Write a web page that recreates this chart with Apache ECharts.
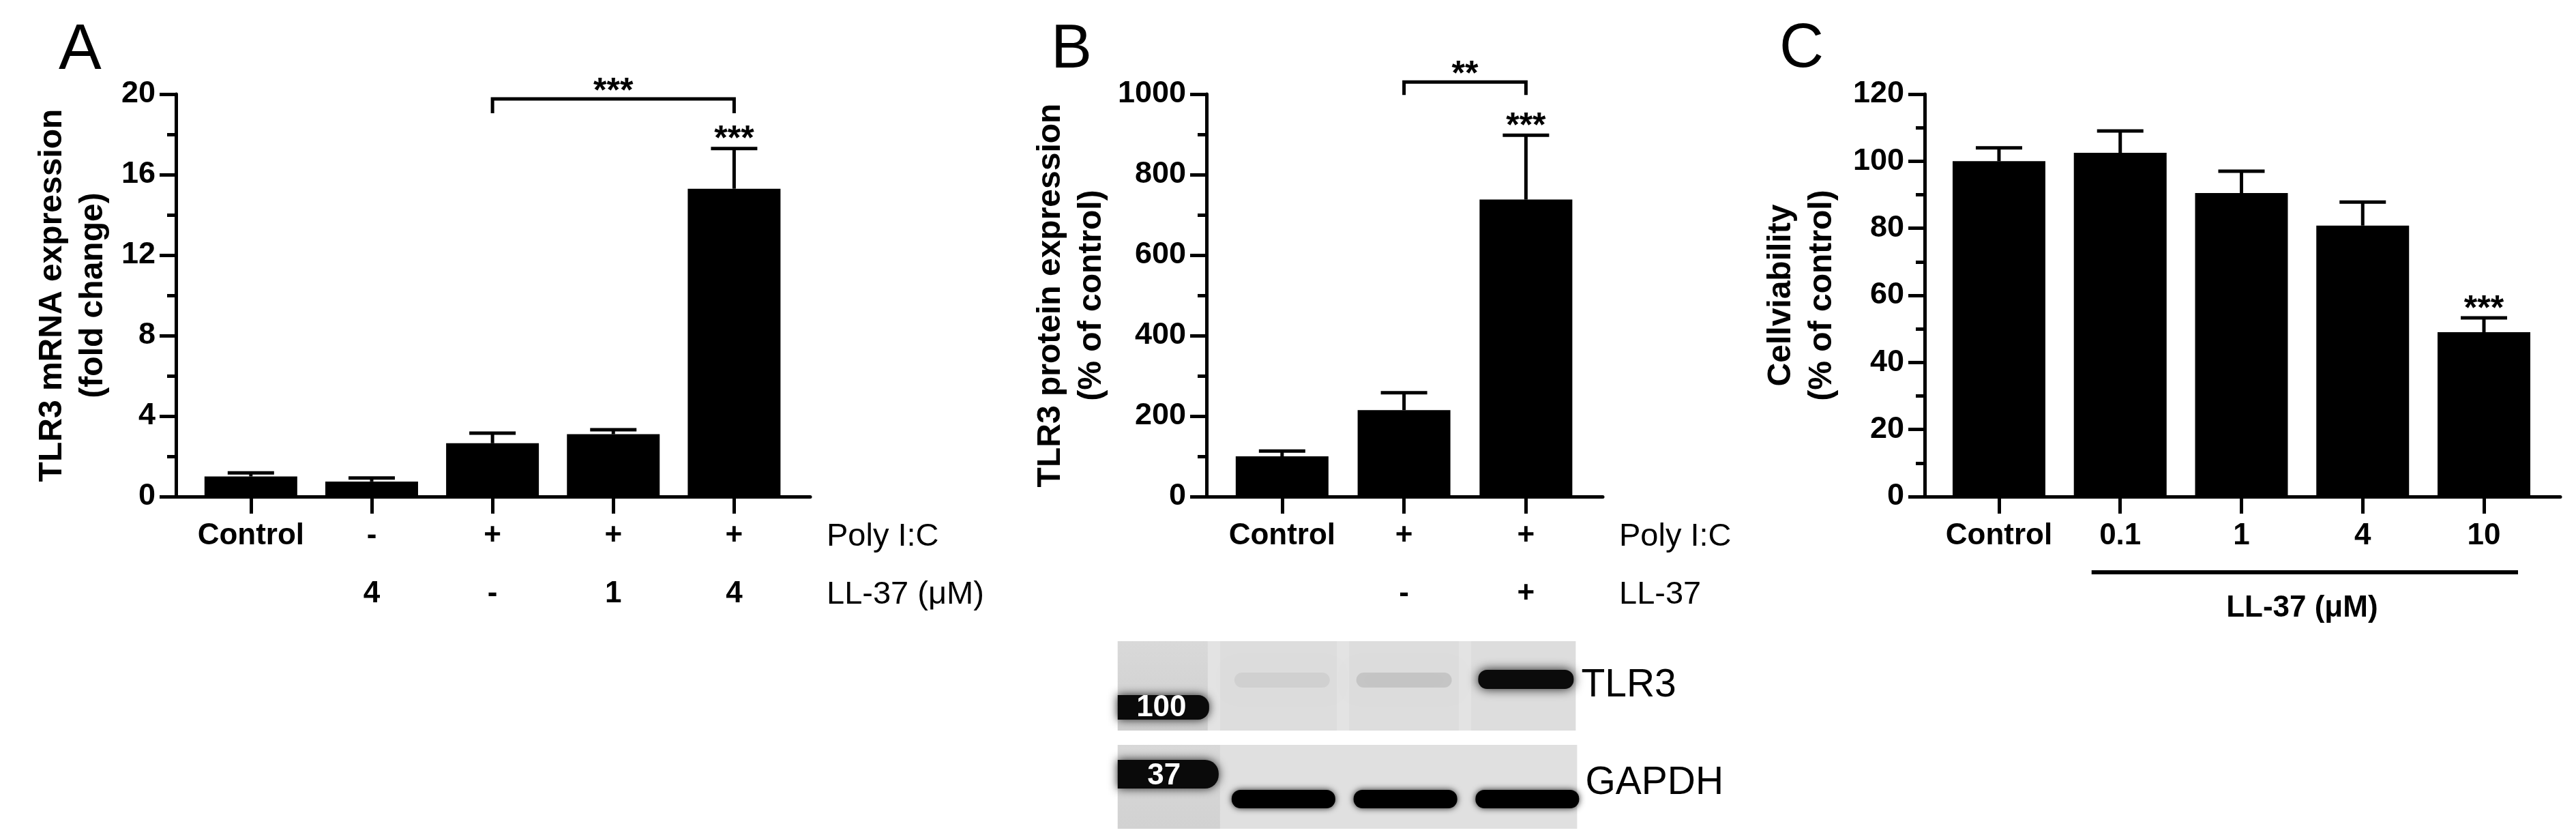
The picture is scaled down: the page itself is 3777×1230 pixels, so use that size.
<!DOCTYPE html>
<html><head><meta charset="utf-8">
<script src="https://cdn.jsdelivr.net/npm/echarts@6/dist/echarts.min.js"></script>
<style>html,body{margin:0;padding:0;background:#fff}#c{width:3777px;height:1230px}</style>
</head><body><div id="c"></div>
<script>
// ---------- DATA ----------
// Panel A: TLR3 mRNA expression (fold change)
const aRow1 = ['Control', '-', '+', '+', '+'];
const aRow2 = ['', '4', '-', '1', '4'];
const aValues = [1.0, 0.75, 2.65, 3.1, 15.3];
const aErrors = [0.18, 0.17, 0.5, 0.22, 2.0];
const aYTicks = {max: 20, interval: 4};
const aBarStars = [{i: 4, text: '***'}];
const aBrackets = [{from: 2, to: 4, top: 19.76, drop: 19.05, text: '***'}];

// Panel B: TLR3 protein expression (% of control)
const bRow1 = ['Control', '+', '+'];
const bRow2 = ['', '-', '+'];
const bValues = [100, 215, 738];
const bErrors = [13, 43, 160];
const bYTicks = {max: 1000, interval: 200};
const bBarStars = [{i: 2, text: '***'}];
const bBrackets = [{from: 1, to: 2, top: 1030, drop: 998, text: '**'}];
const tlr3Band = [0.05, 0.1, 1.0];   // relative band darkness per lane
const gapdhBand = [1.0, 1.0, 1.0];

// Panel C: Cell viability (% of control)
const cRow1 = ['Control', '0.1', '1', '4', '10'];
const cValues = [100, 102.5, 90.5, 80.8, 49];
const cErrors = [4, 6.5, 6.5, 7, 4.3];
const cYTicks = {max: 120, interval: 20};
const cBarStars = [{i: 4, text: '***'}];
const cGroup = [{from: 1, to: 4, text: 'LL-37 (μM)'}];

// ---------- STYLE ----------
const FONT = "'Liberation Sans', Arial, Helvetica, sans-serif";
const BLACK = '#000';

const chart = echarts.init(document.getElementById('c'), null, {renderer: 'canvas'});

function grid(left, width) {
  return {left: left, width: width, top: 138, height: 590, containLabel: false, outerBoundsMode: 'none'};
}
function yAxis(gridIndex, t, name, nameGap) {
  return {
    type: 'value', gridIndex: gridIndex, min: 0, max: t.max, interval: t.interval,
    name: name, nameLocation: 'middle', nameRotate: 90, nameGap: nameGap, nameMoveOverlap: false,
    nameTextStyle: {fontFamily: FONT, fontWeight: 'bold', fontSize: 48, lineHeight: 60, color: BLACK},
    axisLine: {show: true, onZero: false, lineStyle: {color: BLACK, width: 5}},
    axisTick: {show: true, length: 24, lineStyle: {color: BLACK, width: 5}},
    minorTick: {show: true, splitNumber: 2, length: 13, lineStyle: {color: BLACK, width: 5}},
    axisLabel: {formatter: v => String(v), fontFamily: FONT, fontWeight: 'bold', fontSize: 45, color: BLACK, margin: 30},
    splitLine: {show: false}, minorSplitLine: {show: false}
  };
}
function idxOf(labels) { const r = []; labels.forEach((l, i) => { if (l !== '') r.push(i); }); return r; }
function xAxisMain(gridIndex, min, max, labels, name) {
  const cv = labels.map((l, i) => i);
  return {
    type: 'value', gridIndex: gridIndex, min: min, max: max, position: 'bottom',
    axisLine: {show: true, onZero: false, lineStyle: {color: BLACK, width: 5}},
    axisTick: {show: true, customValues: cv, length: 25, lineStyle: {color: BLACK, width: 5}},
    axisLabel: {customValues: cv, formatter: v => labels[Math.round(v)], fontFamily: FONT, fontWeight: 'bold',
      fontSize: 44, color: BLACK, margin: 36},
    splitLine: {show: false},
    name: name || '', nameLocation: 'end', nameGap: 24, nameMoveOverlap: false,
    nameTextStyle: {fontFamily: FONT, fontSize: 47, color: BLACK, align: 'left', verticalAlign: 'top', padding: [36, 0, 0, 0]}
  };
}
function xAxisRow2(gridIndex, min, max, labels, name) {
  const cv = idxOf(labels);
  return {
    type: 'value', gridIndex: gridIndex, min: min, max: max, position: 'bottom', offset: 85,
    axisLine: {show: false, onZero: false}, axisTick: {show: false},
    axisLabel: {customValues: cv, formatter: v => labels[Math.round(v)], fontFamily: FONT, fontWeight: 'bold',
      fontSize: 44, color: BLACK, margin: 36},
    splitLine: {show: false},
    name: name, nameLocation: 'end', nameGap: 24, nameMoveOverlap: false,
    nameTextStyle: {fontFamily: FONT, fontSize: 47, color: BLACK, align: 'left', verticalAlign: 'top', padding: [36, 0, 0, 0]}
  };
}

function barSeries(xi, yi, values) {
  return {type: 'bar', xAxisIndex: xi, yAxisIndex: yi, barWidth: 136, itemStyle: {color: BLACK},
    data: values.map((v, i) => [i, v]), z: 2, silent: true};
}
function errSeries(xi, yi, values, errors) {
  return {type: 'custom', xAxisIndex: xi, yAxisIndex: yi, clip: false, z: 3, silent: true,
    data: values.map((v, i) => [i, v, errors[i]]),
    renderItem: function (params, api) {
      const x = api.value(0), y = api.value(1), e = api.value(2);
      const p0 = api.coord([x, y]), p1 = api.coord([x, y + e]);
      const hc = 34;
      return {type: 'group', children: [
        {type: 'line', shape: {x1: p0[0], y1: p0[1], x2: p1[0], y2: p1[1]}, style: {stroke: BLACK, lineWidth: 5}},
        {type: 'line', shape: {x1: p1[0] - hc, y1: p1[1], x2: p1[0] + hc, y2: p1[1]}, style: {stroke: BLACK, lineWidth: 5}}
      ]};
    }};
}
function starSeries(xi, yi, stars, values, errors) {
  return {type: 'custom', xAxisIndex: xi, yAxisIndex: yi, clip: false, z: 4, silent: true,
    data: stars.map(s => [s.i, values[s.i] + errors[s.i]]),
    renderItem: function (params, api) {
      const p = api.coord([api.value(0), api.value(1)]);
      return {type: 'text', style: {text: stars[params.dataIndex].text, x: p[0], y: p[1] - 12,
        fill: BLACK, font: 'bold 50px ' + FONT, align: 'center', verticalAlign: 'middle'}};
    }};
}
function bracketSeries(xi, yi, brackets) {
  return {type: 'custom', xAxisIndex: xi, yAxisIndex: yi, clip: false, z: 4, silent: true,
    data: brackets.map(b => [b.from, b.to, b.top, b.drop]),
    renderItem: function (params, api) {
      const a = api.coord([api.value(0), api.value(2)]);
      const b = api.coord([api.value(1), api.value(2)]);
      const d = api.coord([api.value(0), api.value(3)]);
      return {type: 'group', children: [
        {type: 'polyline', shape: {points: [[a[0], d[1]], [a[0], a[1]], [b[0], b[1]], [b[0], d[1]]]},
          style: {stroke: BLACK, lineWidth: 5, fill: null}},
        {type: 'text', style: {text: brackets[params.dataIndex].text, x: (a[0] + b[0]) / 2, y: a[1] - 10,
          fill: BLACK, font: 'bold 50px ' + FONT, align: 'center', verticalAlign: 'middle'}}
      ]};
    }};
}
function groupSeries(xi, yi, groups) {
  return {type: 'custom', xAxisIndex: xi, yAxisIndex: yi, clip: false, z: 4, silent: true,
    data: groups.map(g => [g.from, g.to]),
    renderItem: function (params, api) {
      const l = api.coord([api.value(0), 0]);
      const r = api.coord([api.value(1), 0]);
      return {type: 'group', children: [
        {type: 'line', shape: {x1: l[0] - 42, y1: l[1] + 111, x2: r[0] + 50, y2: r[1] + 111}, style: {stroke: BLACK, lineWidth: 6}},
        {type: 'text', style: {text: groups[params.dataIndex].text, x: (l[0] + r[0]) / 2, y: l[1] + 164,
          fill: BLACK, font: 'bold 44px ' + FONT, align: 'center', verticalAlign: 'middle'}}
      ]};
    }};
}

const option = {
  animation: false,
  backgroundColor: '#fff',
  grid: [grid(258, 930), grid(1769, 581), grid(2822, 932)],
  xAxis: [
    xAxisMain(0, -0.62, 4.63, aRow1, 'Poly I:C'),
    xAxisRow2(0, -0.62, 4.63, aRow2, 'LL-37 (μM)'),
    xAxisMain(1, -0.62, 2.63, bRow1, 'Poly I:C'),
    xAxisRow2(1, -0.62, 2.63, bRow2, 'LL-37'),
    xAxisMain(2, -0.613, 4.63, cRow1, '')
  ],
  yAxis: [
    yAxis(0, aYTicks, 'TLR3 mRNA expression\n(fold change)', 91),
    yAxis(1, bYTicks, 'TLR3 protein expression\n(% of control)', 138),
    yAxis(2, cYTicks, 'Cellviability\n(% of control)', 120)
  ],
  series: [
    barSeries(0, 0, aValues), errSeries(0, 0, aValues, aErrors), starSeries(0, 0, aBarStars, aValues, aErrors), bracketSeries(0, 0, aBrackets),
    barSeries(2, 1, bValues), errSeries(2, 1, bValues, bErrors), starSeries(2, 1, bBarStars, bValues, bErrors), bracketSeries(2, 1, bBrackets),
    barSeries(4, 2, cValues), errSeries(4, 2, cValues, cErrors), starSeries(4, 2, cBarStars, cValues, cErrors), groupSeries(4, 2, cGroup)
  ]
};
chart.setOption(option);

// ---------- panel letters + western blot (picture elements) ----------
const lx = [0, 1, 2].map(i => chart.convertToPixel({xAxisIndex: 2}, i));
const g = [];
function txt(t, x, y, font, fill, align, z) {
  g.push({type: 'text', z: z || 10, style: {text: t, x: x, y: y, font: font, fill: fill || BLACK, align: align || 'left', verticalAlign: 'middle'}});
}
txt('A', 86, 75, 'normal 94px ' + FONT);
txt('B', 1541, 74, 'normal 90px ' + FONT);
txt('C', 2609, 73, 'normal 90px ' + FONT);

const blotL = lx[0] - 241;
// TLR3 blot
const t1 = {top: 940, h: 131, right: lx[2] + 73};
g.push({type: 'rect', z: 1, shape: {x: blotL, y: t1.top, width: t1.right - blotL, height: t1.h}, style: {fill: '#dddddd'}});
g.push({type: 'rect', z: 1, shape: {x: blotL, y: t1.top, width: 138, height: t1.h},
  style: {fill: new echarts.graphic.LinearGradient(0, 0, 0, 1, [{offset: 0, color: '#d9d9d9'}, {offset: 1, color: '#cfcfcf'}])}});
[lx[0] - 100, (lx[0] + lx[1]) / 2, (lx[1] + lx[2]) / 2].forEach(x => {
  g.push({type: 'rect', z: 1, shape: {x: x - 9, y: t1.top, width: 18, height: t1.h}, style: {fill: '#e3e3e3'}});
});
g.push({type: 'rect', z: 2, shape: {x: blotL, y: 1019, width: 134, height: 36, r: [0, 16, 16, 0]},
  style: {fill: '#0a0a0a', shadowBlur: 14, shadowColor: 'rgba(0,0,0,0.85)'}});
txt('100', blotL + 64, 1038, 'bold 44px ' + FONT, '#fff', 'center', 12);
tlr3Band.forEach((d, i) => {
  if (i === 2) {
    g.push({type: 'rect', z: 2, shape: {x: lx[i] - 70, y: 982, width: 140, height: 28, r: 13},
      style: {fill: '#0b0b0b', shadowBlur: 16, shadowColor: 'rgba(0,0,0,0.9)'}});
  } else {
    g.push({type: 'rect', z: 2, shape: {x: lx[i] - 70, y: 986, width: 140, height: 22, r: 11},
      style: {fill: 'rgba(0,0,0,' + d + ')', shadowBlur: 24, shadowColor: 'rgba(0,0,0,' + (d * 0.9) + ')'}});
  }
});
txt('TLR3', t1.right + 8, 1005, 'normal 57px ' + FONT);
// GAPDH blot
const t2 = {top: 1092, h: 123, right: lx[2] + 75};
g.push({type: 'rect', z: 1, shape: {x: blotL, y: t2.top, width: t2.right - blotL, height: t2.h}, style: {fill: '#e0e0e0'}});
g.push({type: 'rect', z: 1, shape: {x: blotL, y: t2.top, width: 150, height: t2.h},
  style: {fill: new echarts.graphic.LinearGradient(0, 0, 0, 1, [{offset: 0, color: '#d8d8d8'}, {offset: 1, color: '#d2d2d2'}])}});
g.push({type: 'rect', z: 2, shape: {x: blotL, y: 1114, width: 148, height: 42, r: [0, 20, 20, 0]},
  style: {fill: '#0a0a0a', shadowBlur: 14, shadowColor: 'rgba(0,0,0,0.85)'}});
txt('37', blotL + 68, 1138, 'bold 44px ' + FONT, '#fff', 'center', 12);
gapdhBand.forEach((d, i) => {
  g.push({type: 'rect', z: 2, shape: {x: lx[i] + 2 - 76, y: 1158, width: 152, height: 27, r: 13},
    style: {fill: 'rgba(0,0,0,' + d + ')', shadowBlur: 10, shadowColor: 'rgba(0,0,0,0.85)'}});
});
txt('GAPDH', t2.right + 12, 1148, 'normal 57px ' + FONT);

chart.setOption({graphic: {elements: g}});
</script></body></html>
